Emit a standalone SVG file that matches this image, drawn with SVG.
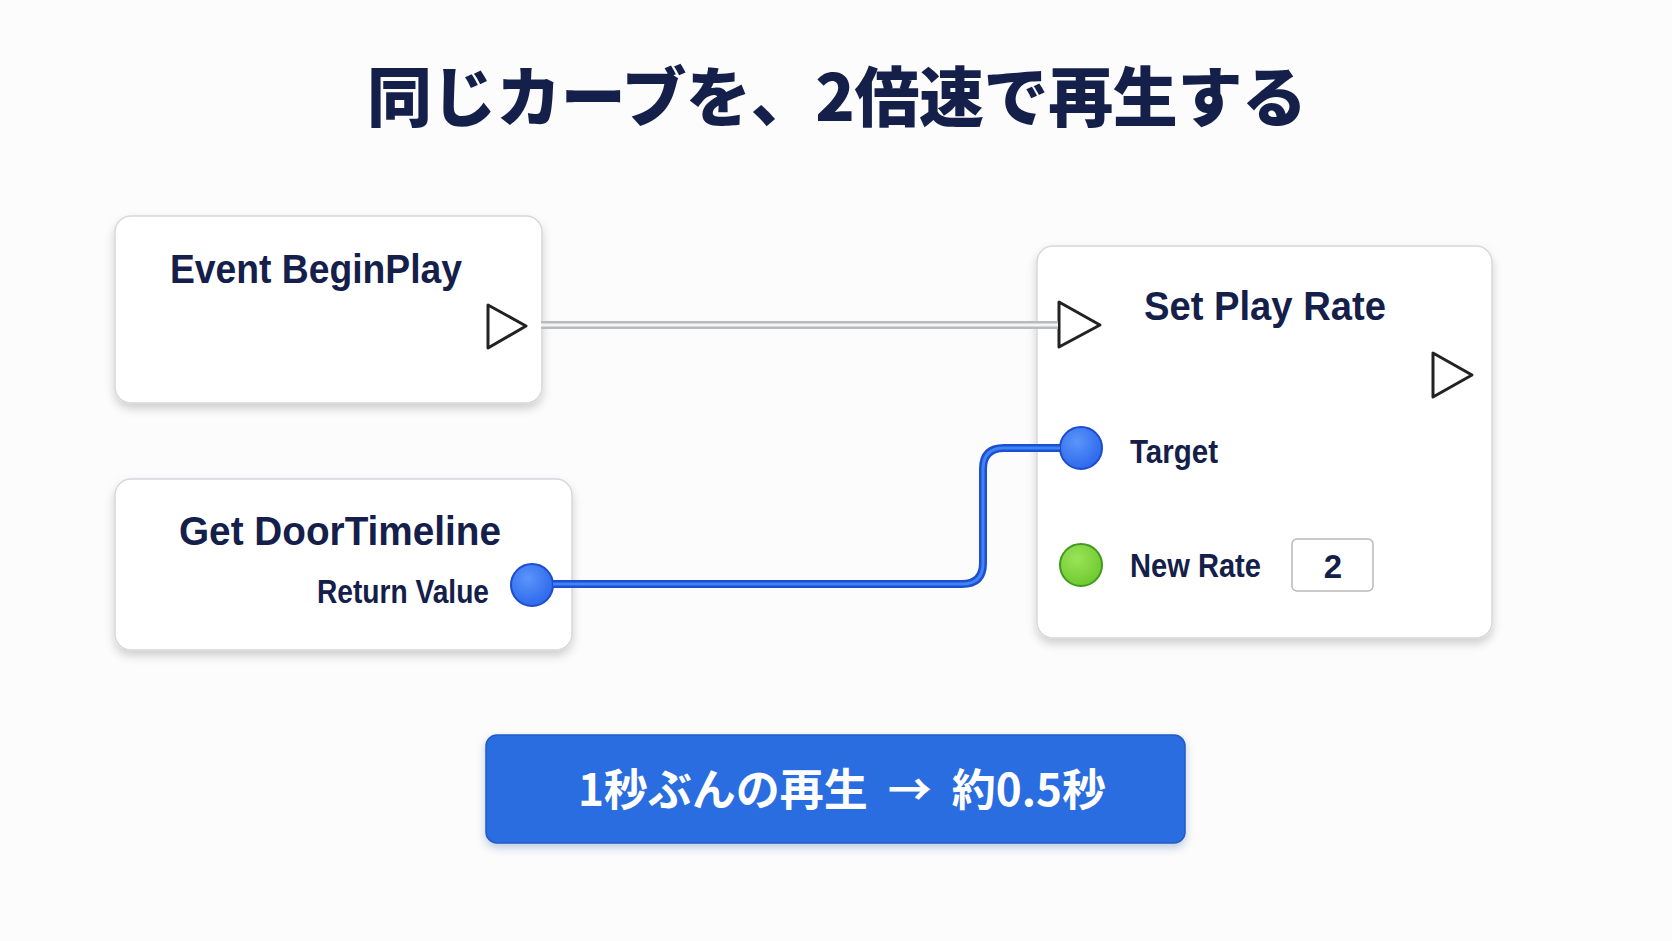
<svg xmlns="http://www.w3.org/2000/svg" width="1672" height="941" viewBox="0 0 1672 941">
  <defs>
    <filter id="shadow" x="-10%" y="-10%" width="120%" height="130%">
      <feDropShadow dx="0" dy="5" stdDeviation="5" flood-color="#000" flood-opacity="0.18"/>
    </filter>
    <filter id="btnshadow" x="-10%" y="-20%" width="120%" height="150%">
      <feDropShadow dx="0" dy="4" stdDeviation="4" flood-color="#0a2a80" flood-opacity="0.25"/>
    </filter>
    <radialGradient id="blueGrad" cx="40%" cy="35%" r="70%">
      <stop offset="0" stop-color="#5b95fb"/>
      <stop offset="1" stop-color="#2a66ea"/>
    </radialGradient>
    <radialGradient id="greenGrad" cx="40%" cy="35%" r="70%">
      <stop offset="0" stop-color="#9be35a"/>
      <stop offset="1" stop-color="#6cc92c"/>
    </radialGradient>
  </defs>
  <style>
    .node { fill: #ffffff; stroke: #d6d8dc; stroke-width: 1.5; }
    .title { font-family: "Liberation Sans", Arial, sans-serif; font-weight: bold; font-size: 40px; fill: #14204a; }
    .label { font-family: "Liberation Sans", Arial, sans-serif; font-weight: bold; font-size: 33px; fill: #14204a; }
    .exec { fill: #ffffff; stroke: #222222; stroke-width: 3; stroke-linejoin: round; }
    .pinBlue { fill: url(#blueGrad); stroke: #1c4bcc; stroke-width: 2; }
    .pinGreen { fill: url(#greenGrad); stroke: #3f9a1e; stroke-width: 2; }
    .heading { font-family: "Noto Sans CJK JP", sans-serif; font-weight: 900; font-size: 65px; fill: #14204a; }
    .btntext { font-family: "Noto Sans CJK JP", sans-serif; font-weight: bold; font-size: 44px; fill: #ffffff; }
  </style>

  <rect width="1672" height="941" fill="#fcfcfd"/>

  <text class="heading" x="837" y="121" text-anchor="middle" textLength="940" lengthAdjust="spacing">同じカーブを、2倍速で再生する</text>

  <g id="node-event-beginplay">
    <rect class="node" x="115" y="216" width="427" height="187" rx="16" filter="url(#shadow)"/>
    <text class="title" x="316" y="283" text-anchor="middle" textLength="292" lengthAdjust="spacingAndGlyphs">Event BeginPlay</text>
    <path class="exec" d="M 488 305 L 526 326 L 488 348 Z"/>
  </g>

  <g id="node-get-doortimeline">
    <rect class="node" x="115" y="479" width="457" height="171" rx="16" filter="url(#shadow)"/>
    <text class="title" x="340" y="545" text-anchor="middle" textLength="322" lengthAdjust="spacingAndGlyphs">Get DoorTimeline</text>
    <text class="label" x="489" y="603" text-anchor="end" textLength="172" lengthAdjust="spacingAndGlyphs">Return Value</text>
    <circle class="pinBlue" cx="532" cy="585" r="21"/>
  </g>

  <g id="node-set-play-rate">
    <rect class="node" x="1037" y="246" width="455" height="392" rx="16" filter="url(#shadow)"/>
    <text class="title" x="1265" y="320" text-anchor="middle" textLength="242" lengthAdjust="spacingAndGlyphs">Set Play Rate</text>
    <path class="exec" d="M 1059 302 L 1100 325 L 1059 347 Z"/>
    <path class="exec" d="M 1433 353 L 1472 375 L 1433 397 Z"/>
    <circle class="pinBlue" cx="1081" cy="448" r="21"/>
    <text class="label" x="1130" y="463" textLength="88" lengthAdjust="spacingAndGlyphs">Target</text>
    <circle class="pinGreen" cx="1081" cy="565" r="21"/>
    <text class="label" x="1130" y="577" textLength="131" lengthAdjust="spacingAndGlyphs">New Rate</text>
    <rect x="1292" y="539" width="81" height="52" rx="5" fill="#ffffff" stroke="#b8b9bc" stroke-width="1.5"/>
    <text class="label" x="1333" y="578" text-anchor="middle" font-size="37">2</text>
  </g>

  <g id="connectors">
    <line x1="541" y1="325" x2="1058" y2="325" stroke="#b9babd" stroke-width="8"/>
    <line x1="541" y1="325" x2="1058" y2="325" stroke="#f4f4f5" stroke-width="3"/>
    <path d="M 553 584 L 962 584 Q 983 584 983 563 L 983 469 Q 983 448 1004 448 L 1060 448" fill="none" stroke="#1d4fd0" stroke-width="8"/>
    <path d="M 553 584 L 962 584 Q 983 584 983 563 L 983 469 Q 983 448 1004 448 L 1060 448" fill="none" stroke="#3f84f7" stroke-width="3"/>
  </g>

  <g id="result-banner">
    <rect x="486" y="735" width="699" height="108" rx="11" fill="#2a6de1" stroke="#1f5bc9" stroke-width="1.5" filter="url(#btnshadow)"/>
    <text class="btntext" x="842" y="806" text-anchor="middle">1秒ぶんの再生<tspan dx="20">→</tspan><tspan dx="20">約0.5秒</tspan></text>
  </g>
</svg>
